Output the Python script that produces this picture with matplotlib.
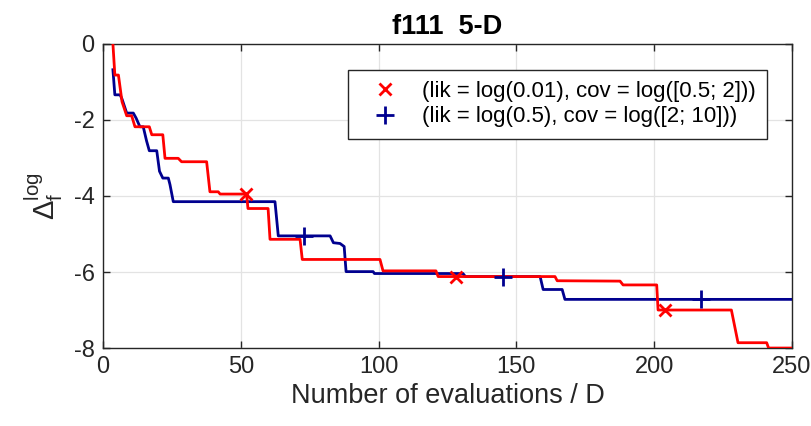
import numpy as np
import matplotlib
matplotlib.use("Agg")
import matplotlib.pyplot as plt
from matplotlib.lines import Line2D

plt.rcParams['font.family'] = ['Liberation Sans', 'DejaVu Sans']
plt.rcParams['mathtext.fontset'] = 'custom'
plt.rcParams['mathtext.rm'] = 'Liberation Sans'
plt.rcParams['mathtext.it'] = 'Liberation Sans'
plt.rcParams['axes.unicode_minus'] = False

# convergence traces (evaluations / D vs. log error)
red_x = [3.6, 4.3, 5.6, 6.9, 8.6, 10.4, 11.6, 16.8, 17.7, 21.7, 22.5, 27.3, 28.5, 37.6,
         38.8, 41.8, 42.5, 52.1, 52.6, 59.9, 60.6, 71.5, 72.3, 100.5, 101.6, 120.8,
         121.6, 164.0, 164.8, 187.6, 188.7, 200.9, 201.4, 228.0, 230.4, 240.8, 241.5, 250.0]
red_y = [0.0, -0.82, -0.82, -1.52, -1.89, -1.89, -2.18, -2.18, -2.39, -2.39, -3.01, -3.01,
         -3.10, -3.10, -3.89, -3.89, -3.95, -3.95, -4.33, -4.33, -5.14, -5.14, -5.67, -5.67,
         -5.97, -5.97, -6.12, -6.12, -6.23, -6.24, -6.34, -6.34, -7.0, -7.0, -7.86, -7.86,
         -8.0, -8.0]

blue_x = [3.6, 4.3, 6.2, 6.9, 8.6, 11.0, 12.0, 13.4, 14.6, 15.8, 16.8, 19.5, 20.5, 21.7,
          23.7, 24.3, 25.5, 62.4, 63.6, 82.4, 83.6, 86.0, 87.5, 88.2, 98.0, 98.5, 130.6,
          131.5, 158.6, 159.7, 166.6, 167.6, 250.0]
blue_y = [-0.68, -1.34, -1.34, -1.45, -1.82, -1.82, -1.95, -2.18, -2.18, -2.55, -2.81,
          -2.81, -3.35, -3.53, -3.53, -3.70, -4.15, -4.15, -5.05, -5.05, -5.23, -5.25,
          -5.33, -5.99, -5.99, -6.04, -6.04, -6.12, -6.12, -6.46, -6.46, -6.72, -6.72]

red_marks = [52, 128, 204]
blue_marks = [73, 145, 217]

labels = ['(lik = log(0.01), cov = log([0.5; 2]))',
          '(lik = log(0.5), cov = log([2; 10]))']

red = (1.0, 0.0, 0.0)
navy = (0.0, 0.0, 0.56)
ink = '#262626'

fig = plt.figure(figsize=(8.11, 4.26), dpi=100)
ax = fig.add_axes([0.127, 0.183, 0.8496, 0.714])

ax.plot(blue_x, blue_y, color=navy, lw=2, zorder=3)
ax.plot(red_x, red_y, color=red, lw=2, zorder=4)
ax.plot(red_marks, np.interp(red_marks, red_x, red_y), ls='none', marker='x',
        color=red, ms=9, mew=2, zorder=5)
ax.plot(blue_marks, np.interp(blue_marks, blue_x, blue_y), ls='none', marker='+',
        color=navy, ms=13, mew=2, zorder=5)

ax.set_xlim(0, 250)
ax.set_ylim(-8, 0)
ax.set_xticks([0, 50, 100, 150, 200, 250])
ax.set_yticks([-8, -6, -4, -2, 0])
ax.grid(True, color='#e3e3e3', lw=0.9)
ax.set_axisbelow(True)
ax.tick_params(direction='in', top=True, right=True, length=5, width=1,
               labelsize=17, colors=ink, pad=6)
for s in ax.spines.values():
    s.set_color(ink)
    s.set_linewidth(1)

ax.set_title('f111  5-D', fontsize=19.5, fontweight='bold', pad=7)
ax.set_xlabel('Number of evaluations / D', fontsize=19.5, color=ink, labelpad=3)
ax.set_ylabel(r'$\Delta_{\mathrm{f}}^{\mathrm{log}}$', fontsize=21, color=ink, labelpad=6)

handles = [Line2D([], [], ls='none', marker='x', color=red, ms=9, mew=2),
           Line2D([], [], ls='none', marker='+', color=navy, ms=13, mew=2)]
leg = ax.legend(handles, labels, loc='upper right', bbox_to_anchor=(0.9637, 0.9145),
                borderaxespad=0, fontsize=16, fancybox=False, framealpha=1,
                edgecolor=ink, handlelength=2.4, handletextpad=0.45,
                borderpad=0.5, labelspacing=0.2)
leg.get_frame().set_linewidth(1)

fig.savefig('out.png', dpi=100)
